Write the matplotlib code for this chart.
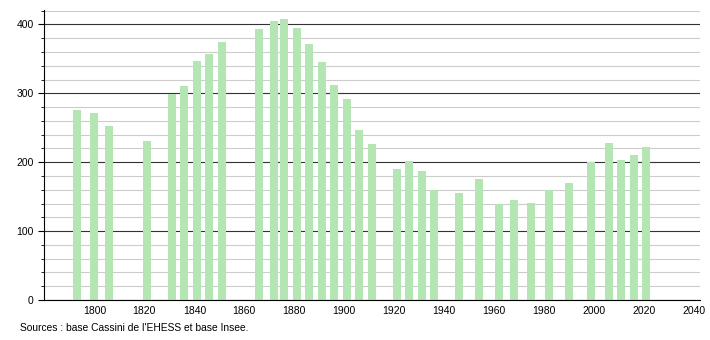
import matplotlib
matplotlib.use("Agg")
import matplotlib.pyplot as plt
from matplotlib.ticker import MultipleLocator

years = [1793, 1800, 1806, 1821, 1831, 1836, 1841, 1846, 1851, 1866, 1872, 1876,
         1881, 1886, 1891, 1896, 1901, 1906, 1911, 1921, 1926, 1931, 1936, 1946,
         1954, 1962, 1968, 1975, 1982, 1990, 1999, 2006, 2011, 2016, 2021]
population = [276, 271, 252, 231, 299, 311, 347, 357, 374, 393, 405, 408,
              395, 372, 345, 312, 292, 247, 226, 190, 202, 187, 159, 156,
              176, 139, 145, 141, 160, 170, 200, 228, 203, 210, 222]
x_ticks = [1800, 1820, 1840, 1860, 1880, 1900, 1920, 1940, 1960, 1980, 2000, 2020, 2040]
y_ticks = [0, 100, 200, 300, 400]
source_text = "Sources : base Cassini de l'EHESS et base Insee."

plt.rcParams['font.family'] = ['Liberation Sans', 'DejaVu Sans']

fig = plt.figure(figsize=(7.1, 3.4), dpi=100)
ax = fig.add_axes([44/710, 40/340, 656/710, 290/340])

ax.set_axisbelow(True)
ax.yaxis.set_minor_locator(MultipleLocator(20))
ax.grid(which='minor', axis='y', color='#cccccc', linewidth=0.8)
ax.grid(which='major', axis='y', color='#333333', linewidth=0.8)

ax.bar(years, population, width=3.2, color='#b3e6b3', zorder=2)

ax.set_xlim(1779.8, 2042.5)
ax.set_ylim(0, 421)
ax.set_xticks(x_ticks)
ax.set_yticks(y_ticks)
ax.tick_params(axis='both', labelsize=7.5, colors='black')
ax.tick_params(axis='x', length=0, pad=4)
ax.tick_params(axis='y', which='major', length=4)
ax.tick_params(axis='y', which='minor', length=2)

for s in ['top', 'right']:
    ax.spines[s].set_visible(False)
ax.spines['left'].set_linewidth(0.8)
ax.spines['bottom'].set_linewidth(0.8)

fig.text(20/710, 1 - 328/340, source_text, fontsize=7.4, va='center', ha='left')

fig.savefig("out.png", dpi=100)
